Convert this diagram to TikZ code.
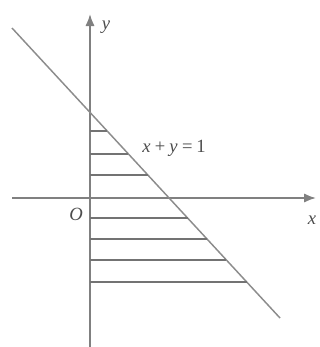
\documentclass[tikz,border=0pt]{standalone}
\usepackage{fontspec}
\setmainfont{Liberation Serif}
\usetikzlibrary{arrows.meta}
\begin{document}
\begin{tikzpicture}[x=0.75pt,y=-0.75pt,
  axis/.style={draw=black!50,line width=1.4pt,-{Latex[length=9pt,width=7pt]}},
  bound/.style={draw=black!45,line width=1.1pt},
  hatch/.style={draw=black!55,line width=1.3pt},
  lbl/.style={font=\fontsize{14}{16}\selectfont\itshape,text=black!70,inner sep=0pt}]
\useasboundingbox (0,0) rectangle (320,347);
% axes
\coordinate (xs) at (12,198);
\coordinate (xe) at (316,198);
\coordinate (ys) at (90,347);
\coordinate (ye) at (90,14);
\draw[axis] (xs) -- (xe);
\draw[axis] (ys) -- (ye);
% boundary line x+y=1
\coordinate (ls) at (12,28);
\coordinate (le) at (280,318);
\draw[bound] (ls) -- (le);
% hatching
\foreach \yy in {131,154,175,218,239,260,282}{
  \coordinate (a\yy) at (90,\yy);
  \coordinate (b\yy) at ({12+(\yy-28)/1.082},\yy);
  \draw[hatch] (a\yy) -- (b\yy);
}
% labels
\node[lbl] (ylab) at (106,27) {y};
\node[lbl] (xlab) at (312,220) {x};
\node[lbl] (olab) at (76,214) {O};
\node[lbl,anchor=west] (eq) at (142,148) {x\,+\,y\,=\,\upshape 1};
\end{tikzpicture}
\end{document}
